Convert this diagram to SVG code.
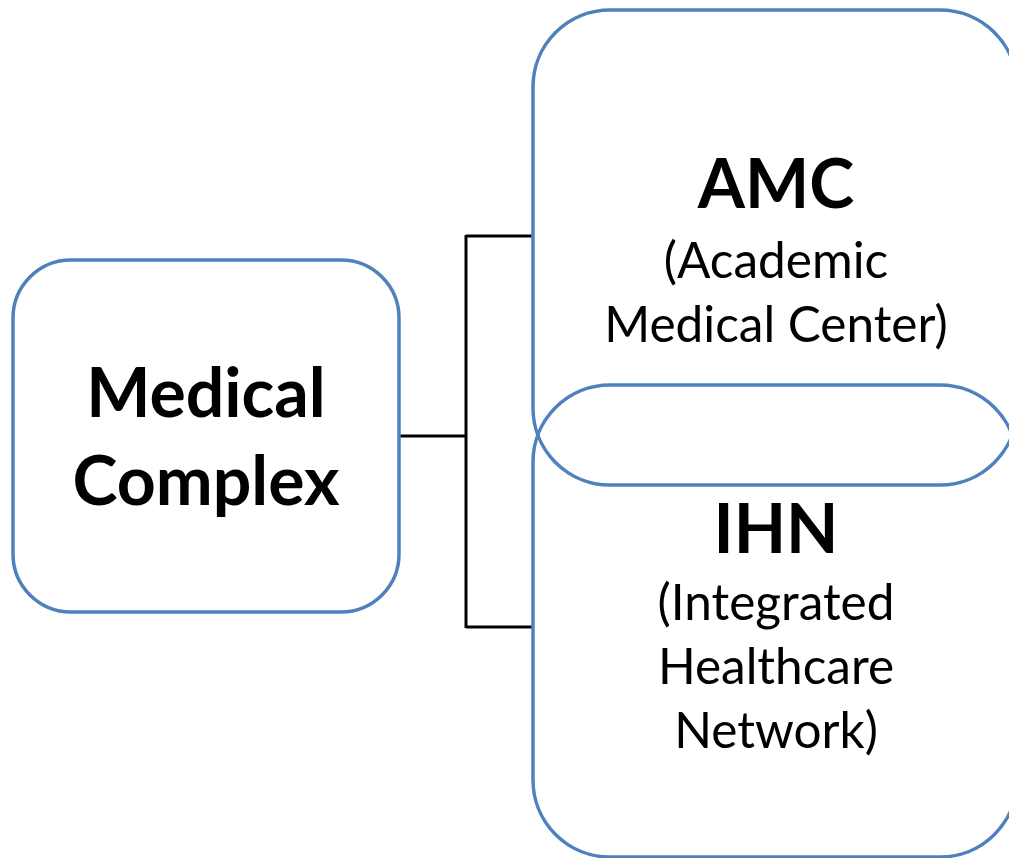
<svg xmlns="http://www.w3.org/2000/svg" width="1009" height="858" viewBox="0 0 1009 858">
<style>
.box{fill:none;stroke:#4F81BD;stroke-width:3.5}
.conn{fill:none;stroke:#000;stroke-width:3}
.t{font-family:Lato,"Liberation Sans",sans-serif;text-anchor:middle;fill:#000}
.b{font-weight:bold;font-size:68px}
.r{font-size:49.5px}
</style>
<rect width="1009" height="858" fill="#fff"/>
<g id="connectors">
<path class="conn" d="M399,436 H466 M466,235 V628 M466,236 H533 M466,627 H533"/>
</g>
<g id="node-medical-complex">
<rect class="box" x="13" y="260" width="386" height="352" rx="58" ry="58"/>
<text class="t b" x="206" y="417">Medical</text>
<text class="t b" x="206" y="505">Complex</text>
</g>
<g id="node-amc">
<rect class="box" x="533" y="10" width="484" height="475" rx="77" ry="77"/>
<text class="t b" x="776" y="208">AMC</text>
<text class="t r" x="776" y="278">(Academic</text>
<text class="t r" x="776" y="342">Medical Center)</text>
</g>
<g id="node-ihn">
<rect class="box" x="533" y="385" width="484" height="472" rx="77" ry="77"/>
<text class="t b" x="776" y="553">IHN</text>
<text class="t r" x="776" y="620">(Integrated</text>
<text class="t r" x="776" y="684">Healthcare</text>
<text class="t r" x="776" y="748">Network)</text>
</g>
</svg>
